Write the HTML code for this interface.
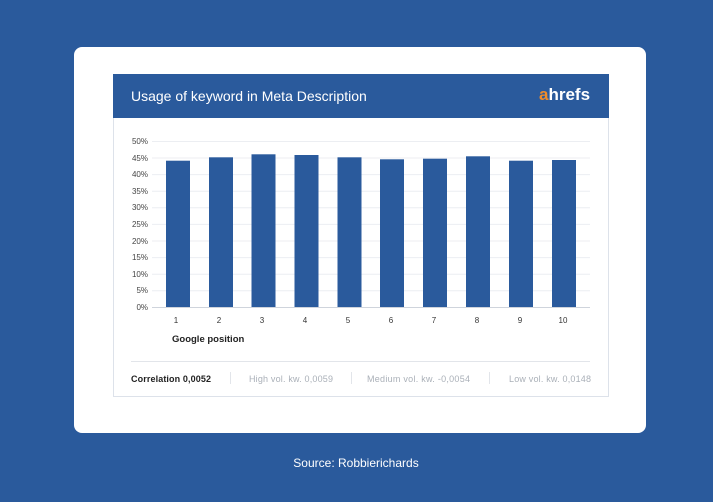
<!DOCTYPE html>
<html><head><style>
body{margin:0;width:713px;height:502px;background:#2a5a9c;font-family:"Liberation Sans",sans-serif;position:relative;overflow:hidden}
.card{position:absolute;left:74px;top:47px;width:572px;height:386px;background:#fff;border-radius:8px}
.box{position:absolute;left:113px;top:74px;width:494px;height:321px;border:1px solid #dde2ea;background:#fff}
.hdr{position:absolute;left:113px;top:74px;width:496px;height:44px;background:#2a5a9c}
.t{position:absolute;white-space:nowrap}
</style></head><body>
<div class="card"></div>
<div class="box"></div>
<div class="hdr"></div>
<div class="t" style="left:131px;top:88px;color:#fff;font-size:14px">Usage of keyword in Meta Description</div>
<div class="t" style="left:539px;top:85px;color:#fff;font-size:17px;font-weight:bold"><span style="color:#f08c2a">a</span>hrefs</div>
<svg style="position:absolute;left:0;top:0" width="713" height="502" font-family="Liberation Sans, sans-serif">
<g stroke="#eceef2" stroke-width="1">
<line x1="152" x2="590" y1="141.5" y2="141.5"/><line x1="152" x2="590" y1="158" y2="158"/><line x1="152" x2="590" y1="174.6" y2="174.6"/><line x1="152" x2="590" y1="191.2" y2="191.2"/><line x1="152" x2="590" y1="207.8" y2="207.8"/><line x1="152" x2="590" y1="224.4" y2="224.4"/><line x1="152" x2="590" y1="241" y2="241"/><line x1="152" x2="590" y1="257.6" y2="257.6"/><line x1="152" x2="590" y1="274.2" y2="274.2"/><line x1="152" x2="590" y1="290.8" y2="290.8"/>
</g>
<line x1="152" x2="590" y1="307.5" y2="307.5" stroke="#cfd4dc"/>
<g font-size="8" fill="#444" text-anchor="end">
<text x="148" y="144">50%</text><text x="148" y="161">45%</text><text x="148" y="177">40%</text><text x="148" y="194">35%</text><text x="148" y="210">30%</text><text x="148" y="227">25%</text><text x="148" y="244">20%</text><text x="148" y="260">15%</text><text x="148" y="277">10%</text><text x="148" y="293">5%</text><text x="148" y="310">0%</text>
</g>
<g fill="#2a5a9c">
<rect x="166" y="160.7" width="24" height="146.3"/>
<rect x="209" y="157.3" width="24" height="149.7"/>
<rect x="251.5" y="154.3" width="24" height="152.7"/>
<rect x="294.5" y="155" width="24" height="152"/>
<rect x="337.5" y="157.3" width="24" height="149.7"/>
<rect x="380" y="159.3" width="24" height="147.7"/>
<rect x="423" y="158.7" width="24" height="148.3"/>
<rect x="466" y="156.3" width="24" height="150.7"/>
<rect x="509" y="160.7" width="24" height="146.3"/>
<rect x="552" y="160" width="24" height="147"/>
</g>
<g font-size="8" fill="#333" text-anchor="middle">
<text x="176" y="323">1</text><text x="219" y="323">2</text><text x="262" y="323">3</text><text x="305" y="323">4</text><text x="348" y="323">5</text><text x="391" y="323">6</text><text x="434" y="323">7</text><text x="477" y="323">8</text><text x="520" y="323">9</text><text x="563" y="323">10</text>
</g>
<text x="172" y="342" font-size="9.5" font-weight="bold" fill="#222">Google position</text>
<line x1="131" x2="590" y1="361.5" y2="361.5" stroke="#e2e5ea"/>
<g stroke="#e2e5ea"><line x1="230.5" x2="230.5" y1="372" y2="384"/><line x1="351.5" x2="351.5" y1="372" y2="384"/><line x1="489.5" x2="489.5" y1="372" y2="384"/></g>
<text x="131" y="382" font-size="9" font-weight="bold" fill="#222" textLength="80">Correlation 0,0052</text>
<g font-size="9" fill="#aab0b8"><text x="249" y="382" textLength="84">High vol. kw. 0,0059</text><text x="367" y="382" textLength="103">Medium vol. kw. -0,0054</text><text x="509" y="382" textLength="82">Low vol. kw. 0,0148</text></g>
<text x="356" y="467" font-size="12" fill="#fff" text-anchor="middle">Source: Robbierichards</text>
</svg>
</body></html>
